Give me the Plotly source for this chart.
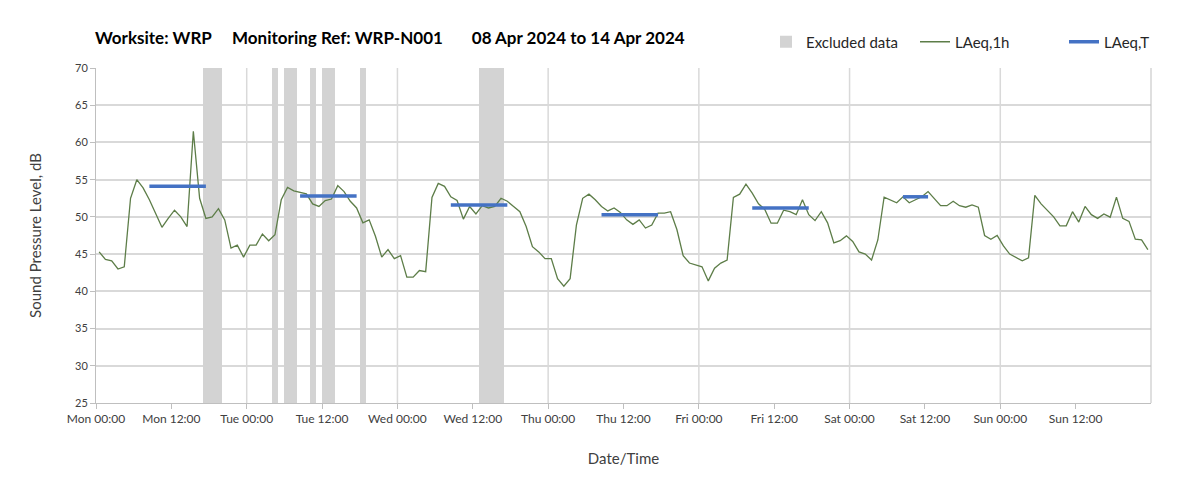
import pandas as pd
import plotly.graph_objects as go

# ---------------- data ----------------
START = "2024-04-08 00:00"
N_HOURS = 168

LAEQ_1H = [
    45.3, 44.3, 44.1, 43.0, 43.3, 52.5, 55.0, 53.9, 52.3, 50.5, 48.6, 49.8, 50.9, 50.0, 48.7, 61.5,
    52.5, 49.8, 50.0, 51.1, 49.6, 45.8, 46.2, 44.6, 46.2, 46.2, 47.7, 46.8, 47.6,
    52.3, 53.95, 53.5, 53.3, 53.1, 51.75, 51.4, 52.2, 52.4, 54.2, 53.4, 52.1, 51.2, 49.2, 49.6, 47.4,
    44.6, 45.6, 44.4, 44.8, 41.9, 41.9, 42.8, 42.65, 52.6, 54.5, 54.1, 52.7, 52.2,
    49.7, 51.4, 50.4, 51.5, 51.2, 51.4, 52.5, 52.1, 51.4, 50.7, 48.7, 46.0, 45.3, 44.4, 44.4,
    41.7, 40.7, 41.7, 48.9, 52.5, 53.05, 52.3, 51.4, 50.8, 51.2, 50.6, 49.6, 49.0, 49.6,
    48.5, 48.9, 50.5, 50.5, 50.7, 48.3, 44.8, 43.8, 43.6, 43.3, 41.4, 43.1, 43.8, 44.2,
    52.6, 53.05, 54.4, 53.2, 51.75, 51.0, 49.15, 49.15, 50.9, 50.7, 50.3, 52.3, 50.3, 49.5,
    50.7, 49.2, 46.5, 46.8, 47.45, 46.7, 45.3, 45.0, 44.2, 46.9, 52.65, 52.3, 51.9, 52.7, 51.9,
    52.3, 52.7, 53.4, 52.4, 51.5, 51.5, 52.1, 51.5, 51.3, 51.6, 51.3, 47.5, 47.0, 47.5,
    46.1, 45.0, 44.6, 44.1, 44.5, 52.9, 51.75, 50.9, 50.0, 48.8, 48.8, 50.7, 49.3, 51.4, 50.3,
    49.8, 50.4, 49.96, 52.65, 49.8, 49.4, 47.0, 46.9, 45.6,
]

# LAeq,T working periods
LAEQ_T_START = ["2024-04-08 08:30", "2024-04-09 08:30", "2024-04-10 08:30",
                "2024-04-11 08:30", "2024-04-12 08:30", "2024-04-13 08:30"]
LAEQ_T_END = ["2024-04-08 17:30", "2024-04-09 17:30", "2024-04-10 17:30",
              "2024-04-11 17:30", "2024-04-12 17:30", "2024-04-13 12:30"]
LAEQ_T = [54.1, 52.8, 51.6, 50.3, 51.2, 52.7]

# Excluded data periods
EXCL_START = ["2024-04-08 17:00", "2024-04-09 04:00", "2024-04-09 06:00", "2024-04-09 10:00",
              "2024-04-09 12:00", "2024-04-09 18:00", "2024-04-10 13:00"]
EXCL_END = ["2024-04-08 20:00", "2024-04-09 05:00", "2024-04-09 08:00", "2024-04-09 11:00",
            "2024-04-09 14:00", "2024-04-09 19:00", "2024-04-10 17:00"]

Y_MIN, Y_MAX = 25, 70

# ---------------- build ----------------
t0 = pd.Timestamp(START)
times = [t0 + pd.Timedelta(minutes=30) + pd.Timedelta(hours=i) for i in range(len(LAEQ_1H))]
t_end = t0 + pd.Timedelta(hours=N_HOURS)

ex_s = pd.to_datetime(EXCL_START)
ex_e = pd.to_datetime(EXCL_END)
ex_mid = ex_s + (ex_e - ex_s) / 2
ex_w = [(e - s).total_seconds() * 1000 for s, e in zip(ex_s, ex_e)]

tx, ty = [], []
for s, e, v in zip(LAEQ_T_START, LAEQ_T_END, LAEQ_T):
    tx += [pd.Timestamp(s), pd.Timestamp(e), None]
    ty += [v, v, None]

FONT = "Lato, 'Open Sans', sans-serif"

fig = go.Figure()
fig.add_trace(go.Bar(
    x=ex_mid, y=[Y_MAX - Y_MIN] * len(ex_mid), base=Y_MIN, width=ex_w,
    marker=dict(color="#d3d3d3", line=dict(width=0)),
    name="Excluded data", hoverinfo="skip",
))
fig.add_trace(go.Scatter(
    x=times, y=LAEQ_1H, mode="lines", name="LAeq,1h",
    line=dict(color="#5d7d48", width=1.3),
))
fig.add_trace(go.Scatter(
    x=tx, y=ty, mode="lines", name="LAeq,T",
    line=dict(color="#4472c4", width=3.5),
))

# vertical gridlines at midnights
for d in pd.date_range(t0, t_end, freq="24h")[1:-1]:
    fig.add_shape(type="line", xref="x", yref="paper", x0=d, x1=d, y0=0, y1=1,
                  line=dict(color="#d9d9d9", width=1.5), layer="below")

tickvals = pd.date_range(t0, periods=14, freq="12h")

TITLE = "Worksite: WRP     Monitoring Ref: WRP-N001       08 Apr 2024 to 14 Apr 2024"

fig.update_layout(
    width=1203, height=492,
    margin=dict(l=96, r=52, t=68, b=89, autoexpand=False),
    paper_bgcolor="white", plot_bgcolor="white",
    font=dict(family=FONT, color="#262626", size=12),
    title=dict(
        text="<b>" + TITLE.replace(" ", "&nbsp;") + "</b>",
        x=95 / 1203, xref="container", xanchor="left",
        y=1 - 38 / 492, yref="container", yanchor="middle",
        font=dict(size=17, color="#000000", family=FONT),
    ),
    legend=dict(
        orientation="h", xref="container", yref="container",
        x=766 / 1203, xanchor="left", y=1 - 42 / 492, yanchor="middle",
        font=dict(size=15, color="#262626"), bgcolor="rgba(0,0,0,0)",
        itemwidth=30, traceorder="normal", entrywidth=104, entrywidthmode="pixels",
    ),
    bargap=0,
    showlegend=True,
)
fig.update_xaxes(
    type="date", range=[t0, t_end],
    tickvals=tickvals, tickformat="%a %H:%M",
    showgrid=False, showline=True, linecolor="#bfbfbf", linewidth=1,
    ticks="outside", ticklen=5, tickcolor="#bfbfbf",
    tickfont=dict(size=12, color="#404040"),
    title=dict(text="Date/Time", font=dict(size=15, color="#404040"), standoff=28),
    zeroline=False, mirror=False,
)
fig.update_yaxes(
    range=[Y_MIN, Y_MAX], dtick=5, tick0=25,
    showgrid=True, gridcolor="#d9d9d9", gridwidth=1.5,
    showline=True, linecolor="#bfbfbf", linewidth=1,
    ticks="outside", ticklen=5, tickcolor="#bfbfbf",
    tickfont=dict(size=11, color="#404040"),
    title=dict(text="Sound Pressure Level, dB", font=dict(size=15, color="#404040"), standoff=29),
    zeroline=False,
)
# right border of plot area
fig.add_shape(type="line", xref="paper", yref="paper", x0=1, x1=1, y0=0, y1=1,
              line=dict(color="#bfbfbf", width=1))

fig.write_html("out.html", config={"displayModeBar": False},
               post_script="document.body.style.margin='0';")
